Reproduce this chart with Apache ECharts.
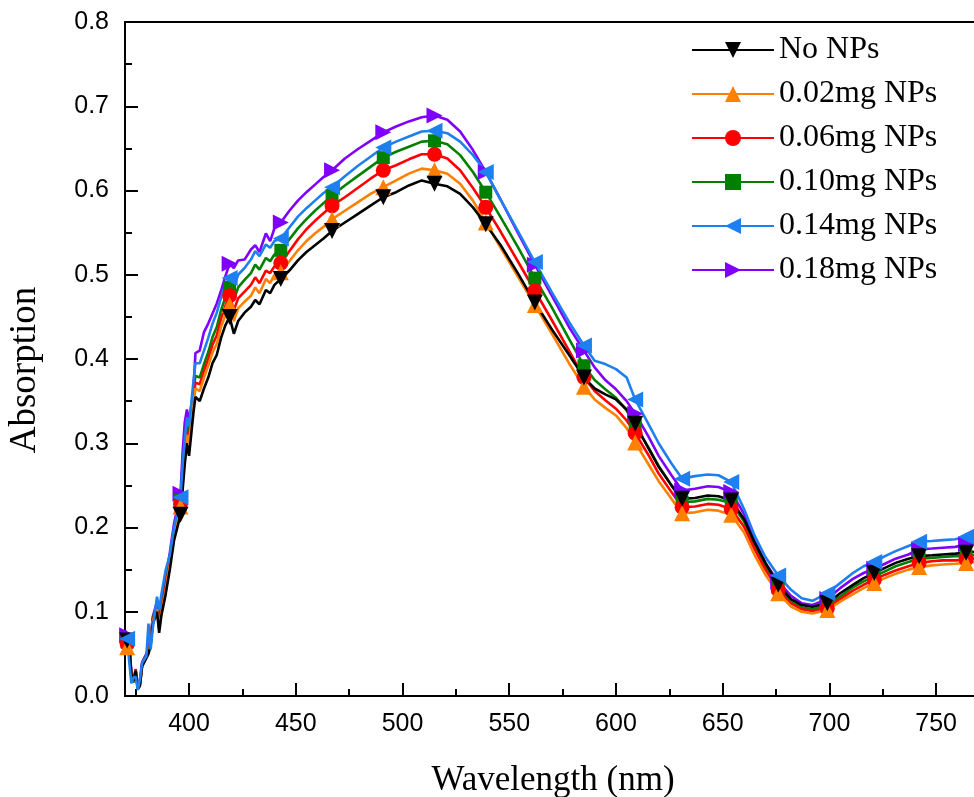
<!DOCTYPE html>
<html><head><meta charset="utf-8">
<script src="https://cdn.jsdelivr.net/npm/echarts@6/dist/echarts.min.js"></script>
<style>html,body{margin:0;padding:0;overflow:hidden;background:#fff;width:974px;height:797px}#c{width:1100px;height:797px}</style>
</head><body><div id="c"></div><script>
const wavelength = [
370,371,372,373,374,375,376,377,378,380,
381,382,383,385,386,387,389,391,393,396,
397,398,399,400,402,403,405,407,409,411,
413,415,417,419,421,423,426,429,431,433,
436,438,440,443,447,451,455,459,463,467,
473,479,485,491,497,503,509,515,521,527,
533,539,546,554,562,570,578,585,590,595,
600,605,609,615,620,626,631,637,643,648,
654,660,665,670,676,682,687,692,699,705,
711,716,721,726,731,737,742,748,753,759,
764,771];

const noNPs = [
0.072,0.066,0.060,0.025,0.018,0.030,0.008,0.012,0.035,0.045,
0.050,0.060,0.085,0.100,0.075,0.095,0.120,0.150,0.185,0.215,
0.245,0.275,0.300,0.285,0.335,0.355,0.350,0.365,0.378,0.395,
0.405,0.425,0.440,0.450,0.430,0.445,0.455,0.462,0.470,0.465,
0.482,0.478,0.488,0.495,0.505,0.517,0.527,0.535,0.543,0.552,
0.562,0.572,0.582,0.592,0.598,0.606,0.612,0.608,0.605,0.596,
0.580,0.560,0.535,0.502,0.467,0.435,0.405,0.378,0.365,0.358,
0.352,0.340,0.323,0.295,0.272,0.250,0.234,0.235,0.238,0.237,
0.232,0.210,0.182,0.158,0.132,0.115,0.108,0.106,0.110,0.122,
0.132,0.140,0.146,0.152,0.158,0.163,0.166,0.167,0.168,0.169,
0.170,0.172];

const np002 = [
0.070,0.058,0.055,0.022,0.018,0.030,0.010,0.015,0.035,0.047,
0.052,0.062,0.088,0.103,0.080,0.098,0.124,0.155,0.190,0.225,
0.255,0.285,0.310,0.300,0.345,0.365,0.362,0.378,0.392,0.408,
0.418,0.438,0.452,0.464,0.445,0.460,0.468,0.475,0.485,0.478,
0.495,0.490,0.500,0.503,0.516,0.529,0.540,0.549,0.557,0.566,
0.576,0.586,0.596,0.604,0.612,0.620,0.626,0.624,0.620,0.608,
0.588,0.562,0.532,0.498,0.464,0.430,0.395,0.367,0.352,0.342,
0.333,0.318,0.301,0.276,0.255,0.234,0.217,0.218,0.221,0.220,
0.215,0.194,0.167,0.144,0.122,0.106,0.100,0.098,0.102,0.112,
0.121,0.128,0.134,0.140,0.145,0.150,0.153,0.155,0.156,0.157,
0.158,0.160];

const np006 = [
0.070,0.062,0.058,0.024,0.018,0.030,0.010,0.014,0.036,0.047,
0.052,0.063,0.090,0.105,0.082,0.100,0.127,0.158,0.193,0.228,
0.260,0.290,0.315,0.305,0.352,0.372,0.370,0.386,0.400,0.417,
0.428,0.448,0.463,0.475,0.458,0.472,0.480,0.488,0.497,0.490,
0.505,0.502,0.510,0.514,0.528,0.542,0.554,0.564,0.573,0.582,
0.592,0.603,0.614,0.624,0.630,0.637,0.643,0.643,0.638,0.624,
0.603,0.580,0.551,0.516,0.481,0.446,0.410,0.378,0.362,0.351,
0.341,0.327,0.312,0.287,0.264,0.242,0.224,0.225,0.228,0.227,
0.222,0.201,0.174,0.150,0.126,0.110,0.103,0.101,0.104,0.115,
0.125,0.132,0.138,0.144,0.149,0.154,0.158,0.160,0.161,0.161,
0.162,0.164];

const np010 = [
0.072,0.064,0.060,0.024,0.016,0.028,0.010,0.014,0.037,0.048,
0.054,0.064,0.092,0.108,0.085,0.103,0.130,0.162,0.197,0.232,
0.265,0.296,0.322,0.312,0.360,0.380,0.378,0.394,0.408,0.426,
0.438,0.458,0.473,0.485,0.470,0.485,0.494,0.502,0.512,0.506,
0.520,0.516,0.524,0.529,0.542,0.555,0.566,0.576,0.585,0.594,
0.606,0.617,0.628,0.639,0.646,0.652,0.658,0.659,0.655,0.642,
0.622,0.598,0.568,0.533,0.496,0.461,0.424,0.392,0.375,0.364,
0.354,0.339,0.321,0.296,0.273,0.250,0.230,0.231,0.234,0.233,
0.229,0.207,0.179,0.154,0.129,0.112,0.105,0.103,0.107,0.118,
0.129,0.136,0.142,0.148,0.154,0.159,0.163,0.164,0.165,0.166,
0.166,0.168];

const np014 = [
0.076,0.068,0.040,0.015,0.022,0.023,0.007,0.020,0.039,0.047,
0.086,0.055,0.080,0.118,0.102,0.120,0.149,0.168,0.200,0.236,
0.275,0.305,0.330,0.320,0.372,0.395,0.395,0.410,0.425,0.442,
0.455,0.473,0.488,0.496,0.485,0.500,0.508,0.518,0.528,0.522,
0.536,0.532,0.540,0.543,0.556,0.569,0.579,0.588,0.597,0.604,
0.617,0.629,0.640,0.651,0.658,0.664,0.670,0.671,0.668,0.658,
0.642,0.622,0.589,0.552,0.515,0.479,0.444,0.416,0.398,0.394,
0.388,0.378,0.352,0.324,0.300,0.276,0.258,0.261,0.263,0.262,
0.254,0.222,0.190,0.165,0.143,0.126,0.116,0.113,0.122,0.134,
0.146,0.154,0.159,0.166,0.172,0.178,0.183,0.184,0.185,0.186,
0.189,0.192];

const np018 = [
0.078,0.072,0.062,0.028,0.020,0.032,0.012,0.018,0.040,0.050,
0.058,0.068,0.094,0.112,0.090,0.110,0.138,0.170,0.205,0.240,
0.290,0.325,0.340,0.327,0.360,0.407,0.410,0.432,0.442,0.454,
0.466,0.481,0.498,0.513,0.508,0.517,0.518,0.530,0.535,0.527,
0.549,0.540,0.555,0.562,0.576,0.588,0.598,0.607,0.616,0.624,
0.638,0.649,0.659,0.669,0.676,0.682,0.687,0.689,0.684,0.670,
0.648,0.622,0.589,0.550,0.512,0.475,0.438,0.410,0.390,0.375,
0.364,0.350,0.335,0.309,0.285,0.262,0.244,0.246,0.249,0.248,
0.242,0.216,0.184,0.158,0.136,0.119,0.110,0.108,0.115,0.128,
0.139,0.146,0.151,0.157,0.163,0.168,0.174,0.175,0.176,0.177,
0.180,0.182];

const seriesNames = ['No NPs', '0.02mg NPs', '0.06mg NPs', '0.10mg NPs', '0.14mg NPs', '0.18mg NPs'];
const markerWavelengths = [371, 396, 419, 443, 467, 491, 515, 539, 562, 585, 609, 631, 654, 676, 699, 721, 742, 764];
const xTickValues = [400, 450, 500, 550, 600, 650, 700, 750];
const xMinorTickValues = [375, 425, 475, 525, 575, 625, 675, 725];

const styles = {
  'No NPs':     {color: '#000000', symbol: 'triangle', rotate: 180, size: 16},
  '0.02mg NPs': {color: '#FF8000', symbol: 'triangle', rotate: 0,   size: 16},
  '0.06mg NPs': {color: '#FF0000', symbol: 'circle',   rotate: 0,   size: 15},
  '0.10mg NPs': {color: '#008000', symbol: 'rect',     rotate: 0,   size: 13},
  '0.14mg NPs': {color: '#1E80F0', symbol: 'triangle', rotate: 90,  size: 16},
  '0.18mg NPs': {color: '#8000FF', symbol: 'triangle', rotate: -90, size: 16}
};
const valuesByName = {
  'No NPs': noNPs, '0.02mg NPs': np002, '0.06mg NPs': np006,
  '0.10mg NPs': np010, '0.14mg NPs': np014, '0.18mg NPs': np018
};
const drawOrder = ['0.18mg NPs', '0.10mg NPs', '0.06mg NPs', '0.02mg NPs', 'No NPs', '0.14mg NPs'];

const series = drawOrder.map(name => {
  const st = styles[name];
  return {
    name: name,
    type: 'line',
    data: wavelength.map((w, i) => [w, valuesByName[name][i]]),
    showSymbol: true,
    showAllSymbol: true,
    symbol: st.symbol,
    symbolRotate: st.rotate,
    symbolSize: (v) => markerWavelengths.indexOf(v[0]) >= 0 ? st.size : 0,
    itemStyle: {color: st.color},
    lineStyle: {color: st.color, width: 2.6},
    emphasis: {disabled: true},
    animation: false
  };
});

const chart = echarts.init(document.getElementById('c'), null, {renderer: 'canvas'});
chart.setOption({
  animation: false,
  backgroundColor: '#fff',
  grid: {left: 125, top: 22, right: 119, bottom: 101, outerBoundsMode: 'none', containLabel: false,
         show: true, borderColor: '#000', borderWidth: 2, backgroundColor: 'transparent'},
  legend: {
    data: seriesNames,
    orient: 'vertical',
    left: 686, top: 29,
    itemWidth: 82, itemHeight: 20, itemGap: 12,
    textStyle: {fontFamily: 'Liberation Serif', fontSize: 32, color: '#000', lineHeight: 30},
    selectedMode: false
  },
  xAxis: [{
    type: 'value', min: 370, max: 771,
    name: 'Wavelength (nm)', nameLocation: 'middle', nameGap: 67,
    nameTextStyle: {fontFamily: 'Liberation Serif', fontSize: 35, color: '#000'},
    axisLine: {show: true, lineStyle: {color: '#000', width: 2}},
    axisTick: {show: true, inside: true, length: 13, customValues: xTickValues, lineStyle: {color: '#000', width: 2}},
    axisLabel: {customValues: xTickValues, fontFamily: 'Liberation Sans', fontSize: 25, color: '#000', margin: 16},
    splitLine: {show: false}
  }, {
    type: 'value', min: 370, max: 771, position: 'bottom',
    axisLine: {show: false},
    axisTick: {show: true, inside: true, length: 7, customValues: xMinorTickValues, lineStyle: {color: '#000', width: 2}},
    axisLabel: {show: false},
    splitLine: {show: false}
  }],
  yAxis: {
    type: 'value', min: 0, max: 0.8, interval: 0.1,
    name: 'Absorption', nameLocation: 'middle', nameGap: 81, nameRotate: 90,
    nameTextStyle: {fontFamily: 'Liberation Serif', fontSize: 37, color: '#000', padding: [0, 22, 0, 0]},
    axisLine: {show: true, lineStyle: {color: '#000', width: 2}},
    axisTick: {show: true, inside: true, length: 13, lineStyle: {color: '#000', width: 2}},
    minorTick: {show: true, splitNumber: 2, length: 7, lineStyle: {color: '#000', width: 2}},
    axisLabel: {formatter: v => v.toFixed(1), fontFamily: 'Liberation Sans', fontSize: 25, color: '#000', margin: 16},
    splitLine: {show: false},
    minorSplitLine: {show: false}
  },
  series: series
});
</script></body></html>
